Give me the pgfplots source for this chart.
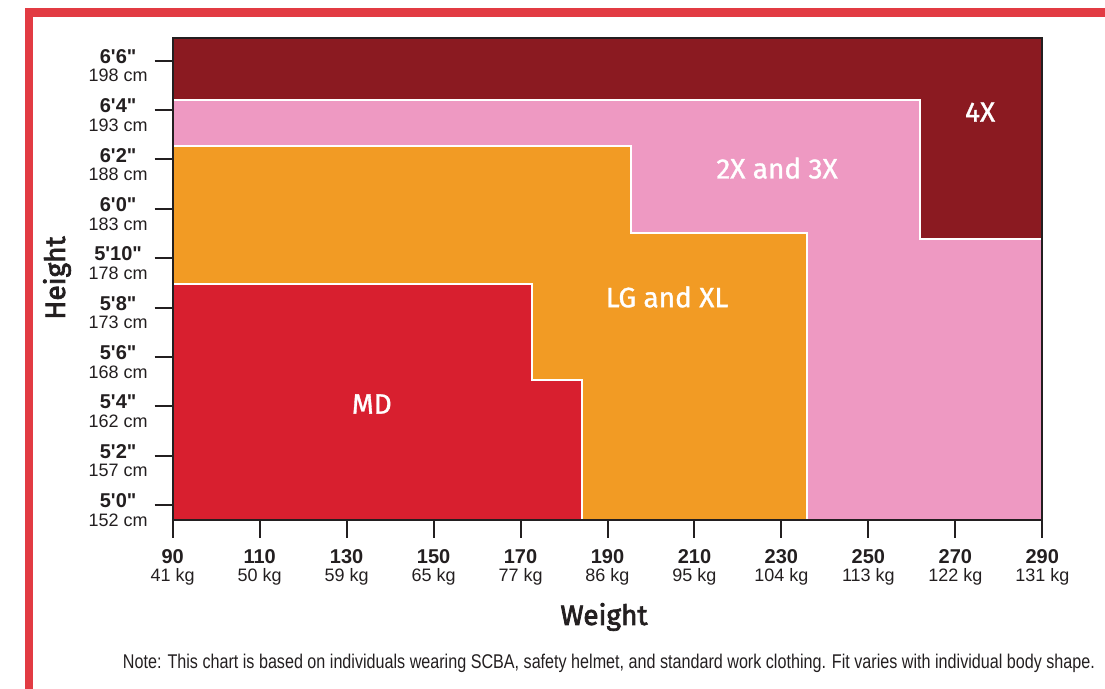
\documentclass[border=0pt]{standalone}
\usepackage{fontspec}
\setmainfont{Liberation Sans}
\newfontfamily\labfont{Fira Sans}[FakeBold=1.2]
\newfontfamily\titfont{Fira Sans}[FakeBold=2.6]
\usepackage{pgfplots}
\pgfplotsset{compat=1.18}
\usepackage{graphicx}

\definecolor{frame}{HTML}{E23B43}
\definecolor{axisgray}{HTML}{231F20}
\definecolor{xxxx}{HTML}{8B1A21}
\definecolor{xxl}{HTML}{EE99C2}
\definecolor{lgxl}{HTML}{F29B24}
\definecolor{md}{HTML}{D81F2F}

\newcommand{\fy}[3]{{\fontsize{10}{9}\selectfont\bfseries #1\textquotesingle#2\textquotedbl}\\#3 cm}
\newcommand{\wt}[2]{{\fontsize{10}{9}\selectfont\bfseries #1}\\#2 kg}

\begin{document}
\begin{tikzpicture}
\begin{axis}[
    at={(86.35pt,84.5pt)}, anchor=south west,
    scale only axis,
    width=434.8pt, height=240.85pt,
    xmin=90, xmax=290,
    ymin=59.39, ymax=78.91,
    axis on top,
    axis line style={axisgray, line width=1pt},
    tick style={axisgray, line width=1pt},
    major tick length=9pt,
    tick align=outside,
    xtick pos=bottom, ytick pos=left,
    xtick={90,110,...,290},
    ytick={60,62,...,78},
    xticklabels={\wt{90}{41},\wt{110}{50},\wt{130}{59},\wt{150}{65},\wt{170}{77},\wt{190}{86},\wt{210}{95},\wt{230}{104},\wt{250}{113},\wt{270}{122},\wt{290}{131}},
    yticklabels={\fy{5}{0}{152},\fy{5}{2}{157},\fy{5}{4}{162},\fy{5}{6}{168},\fy{5}{8}{173},\fy{5}{10}{178},\fy{6}{0}{183},\fy{6}{2}{188},\fy{6}{4}{193},\fy{6}{6}{198}},
    xticklabel style={align=center, font=\fontsize{9}{9}\selectfont, text=axisgray, yshift=-2pt},
    yticklabel style={align=center, font=\fontsize{9}{9.3}\selectfont, text=axisgray, yshift=-2.5pt},
]
% 4X: everything above the other regions
\addplot[fill=xxxx, draw=none] coordinates {(90,59.39) (290,59.39) (290,78.91) (90,78.91)} -- cycle;
% 2X and 3X
\addplot[fill=xxl, draw=white, line width=1pt] coordinates {(90,59.39) (290,59.39) (290,70.78) (261.9,70.78) (261.9,76.41) (90,76.41)} -- cycle;
% LG and XL
\addplot[fill=lgxl, draw=white, line width=1pt] coordinates {(90,59.39) (235.8,59.39) (235.8,71.0) (195.3,71.0) (195.3,74.56) (90,74.56)} -- cycle;
% MD
\addplot[fill=md, draw=white, line width=1pt] coordinates {(90,59.39) (184.1,59.39) (184.1,65.06) (172.7,65.06) (172.7,68.94) (90,68.94)} -- cycle;

\node[text=white, font=\labfont\fontsize{14}{14}\selectfont] at (axis cs:135.8,64.09) {MD};
\node[text=white, font=\labfont\fontsize{14}{14}\selectfont] at (axis cs:203.7,68.43) {LG and XL};
\node[text=white, font=\labfont\fontsize{14}{14}\selectfont] at (axis cs:229.0,73.65) {2X and 3X};
\node[text=white, font=\labfont\fontsize{14}{14}\selectfont] at (axis cs:275.7,75.92) {4X};
\end{axis}

\node[font=\titfont\fontsize{14}{14}\selectfont, text=axisgray] at (302pt,36pt) {Weight};
\node[font=\titfont\fontsize{14}{14}\selectfont, text=axisgray, rotate=90] at (28.5pt,205.5pt) {Height};
\node[font=\fontsize{10}{10}\selectfont, text=axisgray] at (304.5pt,12.8pt)
  {\resizebox{486pt}{7.2pt}{Note: This chart is based on individuals wearing SCBA, safety helmet, and standard work clothing. Fit varies with individual body shape.}};

% red page frame
\fill[frame] (12.5pt,336pt) rectangle (552.5pt,340.5pt);
\fill[frame] (12.5pt,0pt) rectangle (16.5pt,340.5pt);

\pgfresetboundingbox
\path[use as bounding box] (0pt,0pt) rectangle (552.5pt,344.5pt);
\end{tikzpicture}
\end{document}
